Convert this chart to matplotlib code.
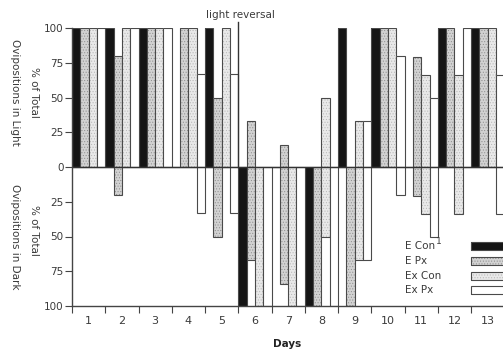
import matplotlib.pyplot as plt
from matplotlib.patches import Rectangle

# Datos (porcentaje de oviposiciones)
dias = list(range(1, 14))
series = ["E Con", "E Px", "Ex Con", "Ex Px"]

e_con_luz = [100, 100, 100, 0, 100, 0, 0, 0, 100, 100, 0, 100, 100]
e_con_osc = [0, 0, 0, 0, 0, 100, 0, 100, 0, 0, 0, 0, 0]
e_px_luz = [100, 80, 100, 100, 50, 33, 16, 0, 0, 100, 79, 100, 100]
e_px_osc = [0, 20, 0, 0, 50, 67, 84, 100, 100, 0, 21, 0, 0]
ex_con_luz = [100, 100, 100, 100, 100, 0, 0, 50, 33, 100, 66, 66, 100]
ex_con_osc = [0, 0, 0, 0, 0, 100, 100, 50, 67, 0, 34, 34, 0]
ex_px_luz = [100, 100, 100, 67, 67, 0, 0, 0, 33, 80, 50, 100, 66]
ex_px_osc = [0, 0, 0, 33, 33, 100, 100, 100, 67, 20, 50, 0, 34]

y_ticks = [100, 75, 50, 25, 0, -25, -50, -75, -100]
y_tick_labels = ["100", "75", "50", "25", "0", "25", "50", "75", "100"]
dia_inversion = 5.5

luz = [e_con_luz, e_px_luz, ex_con_luz, ex_px_luz]
oscuridad = [e_con_osc, e_px_osc, ex_con_osc, ex_px_osc]

# Estilo de cada serie: (relleno, trama, color de la trama)
estilos = [("#151515", "", "#151515"),
           ("#d2d2d2", "......", "#8c8c8c"),
           ("#e9e9e9", "......", "#b5b5b5"),
           ("white", "", "white")]
borde = "#4a4a4a"
texto = "#3a3a3a"

plt.rcParams["font.family"] = ["DejaVu Sans"]
plt.rcParams["hatch.linewidth"] = 0.4

fig = plt.figure(figsize=(5.03, 3.49), dpi=100)
W, H = 503, 349
ax = fig.add_axes([72 / W, 1 - 306 / H, 1 - 72 / W, (306 - 28) / H])

ancho = 0.25
for i, (fc, hatch, hc) in enumerate(estilos):
    xs = [d - 0.375 + i * ancho for d in dias]
    pos = luz[i]
    neg = [-v for v in oscuridad[i]]
    for vals in (pos, neg):
        # relleno punteado y luego el contorno
        ax.bar(xs, vals, width=ancho, color=fc, edgecolor=hc, linewidth=0, hatch=hatch)
        ax.bar(xs, vals, width=ancho, fill=False, edgecolor=borde, linewidth=0.8)

ax.axhline(0, color="#333333", linewidth=1.0)
ax.plot([dia_inversion, dia_inversion], [0, 104], color="#333333", linewidth=1.0, clip_on=False)

ax.set_xlim(0.5, 13.46)
ax.set_ylim(-100, 100)

ax.set_yticks(y_ticks)
ax.set_yticklabels(y_tick_labels)
ax.set_xticks([d + 0.5 for d in dias[:-1]] + [0.5])
ax.set_xticklabels([])
ax.set_xticks(dias, minor=True)
ax.set_xticklabels([str(d) for d in dias], minor=True)
ax.tick_params(axis="x", which="major", length=5, color="#444444", direction="out")
ax.tick_params(axis="x", which="minor", length=0, pad=7, labelsize=8, labelcolor=texto)
ax.tick_params(axis="y", length=5, color="#444444", labelsize=7.5, labelcolor=texto, pad=1)

for s in ["top", "right"]:
    ax.spines[s].set_visible(False)
for s in ["left", "bottom"]:
    ax.spines[s].set_color("#444444")
    ax.spines[s].set_linewidth(1.0)

# Etiquetas del eje Y (giradas, de arriba a abajo)
fig.text(15 / W, 1 - 92 / H, "Ovipositions in Light", rotation=270, ha="center", va="center",
         fontsize=7.5, color=texto)
fig.text(34 / W, 1 - 92 / H, "% of Total", rotation=270, ha="center", va="center",
         fontsize=7.5, color=texto)
fig.text(15 / W, 1 - 237 / H, "Ovipositions in Dark", rotation=270, ha="center", va="center",
         fontsize=7.5, color=texto)
fig.text(34 / W, 1 - 230 / H, "% of Total", rotation=270, ha="center", va="center",
         fontsize=7.5, color=texto)

fig.text(240 / W, 1 - 15 / H, "light reversal", ha="center", va="center", fontsize=7.5, color=texto)
fig.text(287 / W, 1 - 344 / H, "Days", ha="center", va="center", fontsize=7.5,
         fontweight="bold", color="#222222")

# Leyenda manual
ys_leyenda = [246, 261, 276, 290]
for (fc, hatch, hc), nombre, yc in zip(estilos, series, ys_leyenda):
    fig.text(405 / W, 1 - yc / H, nombre, ha="left", va="center", fontsize=7.5, color=texto)
    caja = (471 / W, 1 - (yc + 4) / H)
    fig.patches.append(Rectangle(caja, 40 / W, 8 / H, transform=fig.transFigure,
                                 facecolor=fc, edgecolor=hc, linewidth=0, hatch=hatch))
    fig.patches.append(Rectangle(caja, 40 / W, 8 / H, transform=fig.transFigure,
                                 fill=False, edgecolor=borde, linewidth=0.8))
fig.text(436 / W, 1 - 241 / H, "1", ha="left", va="center", fontsize=6.5, color=texto)

fig.savefig("out.png", dpi=100)
